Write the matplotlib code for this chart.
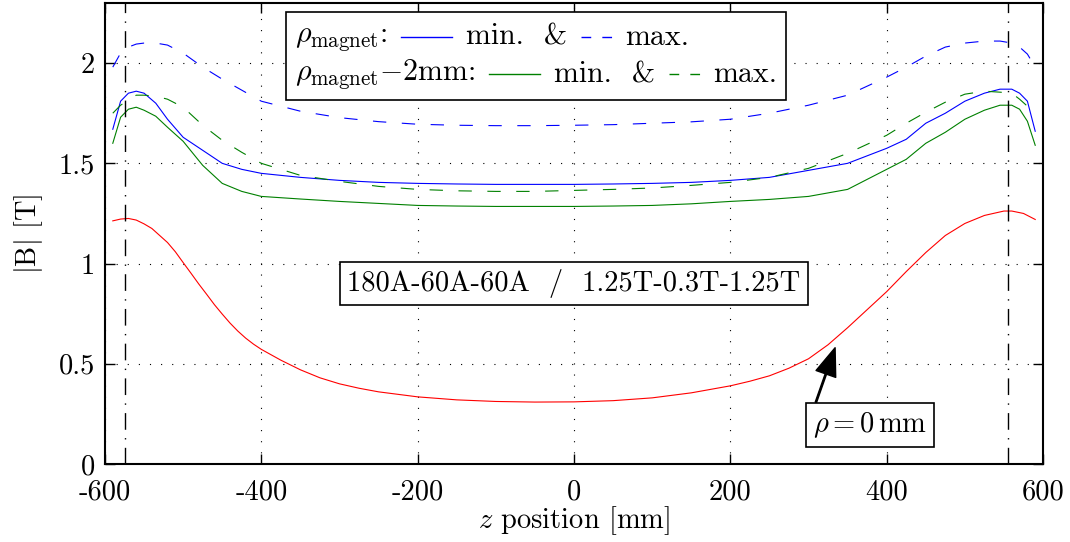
import matplotlib
matplotlib.use("Agg")
import matplotlib.pyplot as plt
from matplotlib.lines import Line2D
from matplotlib.offsetbox import TextArea, DrawingArea, HPacker, VPacker, AnchoredOffsetbox

# ── data ──────────────────────────────────────────────
z_mm = [-590, -580, -570, -560, -550, -535, -520, -500, -475, -450, -425, -400,
        -350, -300, -250, -200, -150, -100, -50, 0, 50, 100, 150, 200, 250,
        300, 350, 400, 425, 450, 475, 500, 525, 545, 560, 570, 580, 590]

b_magnet_min = [1.67, 1.81, 1.85, 1.86, 1.85, 1.80, 1.72, 1.63, 1.565, 1.50, 1.47, 1.45,
                1.43, 1.415, 1.405, 1.40, 1.397, 1.395, 1.395, 1.395, 1.397, 1.40, 1.405, 1.415, 1.43,
                1.465, 1.50, 1.575, 1.62, 1.70, 1.75, 1.81, 1.85, 1.87, 1.87, 1.85, 1.81, 1.66]

b_magnet_max = [1.98, 2.05, 2.08, 2.095, 2.10, 2.10, 2.09, 2.05, 1.98, 1.92, 1.865, 1.81,
                1.76, 1.728, 1.708, 1.695, 1.69, 1.688, 1.688, 1.69, 1.693, 1.70, 1.707, 1.72, 1.75,
                1.79, 1.84, 1.93, 1.98, 2.035, 2.08, 2.10, 2.11, 2.11, 2.10, 2.08, 2.045, 1.98]

b_2mm_min = [1.60, 1.73, 1.77, 1.78, 1.765, 1.735, 1.68, 1.61, 1.49, 1.40, 1.36, 1.335,
             1.322, 1.31, 1.30, 1.29, 1.287, 1.285, 1.285, 1.285, 1.287, 1.29, 1.298, 1.31, 1.32,
             1.335, 1.37, 1.47, 1.52, 1.60, 1.655, 1.72, 1.765, 1.79, 1.79, 1.77, 1.71, 1.59]

b_2mm_max = [1.75, 1.79, 1.815, 1.84, 1.84, 1.835, 1.82, 1.78, 1.69, 1.615, 1.555, 1.50,
             1.44, 1.41, 1.385, 1.37, 1.363, 1.36, 1.36, 1.365, 1.37, 1.377, 1.39, 1.405, 1.43,
             1.475, 1.55, 1.64, 1.70, 1.755, 1.805, 1.845, 1.86, 1.855, 1.85, 1.82, 1.785, 1.745]

# on-axis field (rho = 0), read on a finer z grid
z_axis_mm = [-590, -580, -570, -560, -550, -540, -530, -520, -510, -500, -490, -480,
             -470, -460, -450, -440, -430, -420, -410, -400, -375, -350, -325, -300,
             -275, -250, -200, -150, -100, -50, 0, 50, 100, 150, 200, 225, 250, 275,
             300, 325, 350, 375, 400, 425, 450, 475, 500, 525, 550, 560, 575, 590]
b_axis = [1.213, 1.222, 1.225, 1.217, 1.198, 1.175, 1.14, 1.105, 1.059, 1.005, 0.952, 0.898,
          0.847, 0.795, 0.748, 0.703, 0.663, 0.628, 0.598, 0.572, 0.518, 0.47, 0.43, 0.40,
          0.378, 0.36, 0.335, 0.32, 0.312, 0.309, 0.31, 0.316, 0.33, 0.355, 0.39, 0.413, 0.44, 0.478,
          0.525, 0.595, 0.68, 0.77, 0.86, 0.96, 1.055, 1.14, 1.20, 1.24, 1.262, 1.262, 1.25, 1.22]

magnet_edges = [-575, 555]

x_ticks = [-600, -400, -200, 0, 200, 400, 600]
x_tick_labels = ["-600", "-400", "-200", "0", "200", "400", "600"]
y_ticks = [0, 0.5, 1, 1.5, 2]
y_tick_labels = ["0", "0.5", "1", "1.5", "2"]

# ── style ─────────────────────────────────────────────
FS = 20.5
FS_LEG = 21.5
plt.rcParams["font.family"] = ["cmr10", "DejaVu Serif"]
plt.rcParams["mathtext.fontset"] = "cm"
plt.rcParams["axes.unicode_minus"] = False
plt.rcParams["font.size"] = FS

BLUE = "#0000ff"
GREEN = "#008000"
RED = "#ff0000"
LW = 0.8
DASH = (0, (12, 14))

fig = plt.figure(figsize=(10.7, 5.42), dpi=100)
ax = fig.add_axes([0.0981, 0.1439, 0.9748 - 0.0981, 0.9945 - 0.1439])

ax.plot(z_mm, b_magnet_min, color=BLUE, lw=LW)
ax.plot(z_mm, b_magnet_max, color=BLUE, lw=LW, linestyle=DASH)
ax.plot(z_mm, b_2mm_min, color=GREEN, lw=LW)
ax.plot(z_mm, b_2mm_max, color=GREEN, lw=LW, linestyle=DASH)
ax.plot(z_axis_mm, b_axis, color=RED, lw=LW)

for zm in magnet_edges:
    ax.axvline(zm, color="black", lw=1.0, linestyle=(0, (12, 6, 1, 6)))

ax.set_xlim(-600, 600)
ax.set_ylim(0, 2.3)
ax.set_xticks(x_ticks)
ax.set_xticklabels(x_tick_labels)
ax.set_yticks(y_ticks)
ax.set_yticklabels(y_tick_labels)
ax.grid(True, color="black", linestyle=(0, (1, 9)), lw=0.8)
ax.tick_params(direction="in", length=7, width=1.0, top=True, right=True,
               labelsize=FS)
ax.tick_params(axis="x", pad=11)
ax.tick_params(axis="y", pad=7)
for sp in ax.spines.values():
    sp.set_linewidth(1.5)

ax.set_xlabel(r"$z$ position [mm]", fontsize=FS, labelpad=-1)
ax.set_ylabel(r"$|\mathrm{B}|$ [T]", fontsize=FS, labelpad=10)

# ── legend (two rows, custom) ─────────────────────────
def sample(color, ls, w):
    da = DrawingArea(w, 10, 0, 0)
    da.add_artist(Line2D([0, w], [5, 5], color=color, lw=1.0, linestyle=ls))
    return da

def row(prefix, color):
    tp = dict(size=FS_LEG)
    return HPacker(children=[TextArea(prefix, textprops=tp),
                             sample(color, "-", 37),
                             TextArea("min.  &", textprops=tp),
                             sample(color, (0, (7, 8)), 22),
                             TextArea("max.", textprops=tp)],
                   align="center", pad=0, sep=10)

box = VPacker(children=[row(r"$\rho_\mathrm{magnet}$:", BLUE),
                        row(r"$\rho_\mathrm{magnet}$$-$2mm:", GREEN)],
              align="left", pad=0, sep=3)
anch = AnchoredOffsetbox(loc="upper left", child=box, pad=0.3, borderpad=0,
                         bbox_to_anchor=(0.193, 0.980), bbox_transform=ax.transAxes,
                         frameon=True)
anch.patch.set_boxstyle("square", pad=0)
anch.patch.set_edgecolor("black")
anch.patch.set_linewidth(1.2)
ax.add_artist(anch)

# ── annotations ───────────────────────────────────────
ax.text(0, 0.90, "180A-60A-60A  /  1.25T-0.3T-1.25T", ha="center", va="center",
        fontsize=FS,
        bbox=dict(boxstyle="square,pad=0.25", fc="white", ec="black", lw=1.2))

ax.annotate(r"$\rho = 0\,\mathrm{mm}$", xy=(334, 0.58), xytext=(379, 0.195),
            ha="center", va="center", fontsize=FS,
            bbox=dict(boxstyle="square,pad=0.25", fc="white", ec="black", lw=1.2),
            arrowprops=dict(facecolor="black", edgecolor="black", width=1,
                            headwidth=15, headlength=20, shrink=0))

fig.savefig("out.png", dpi=100)
